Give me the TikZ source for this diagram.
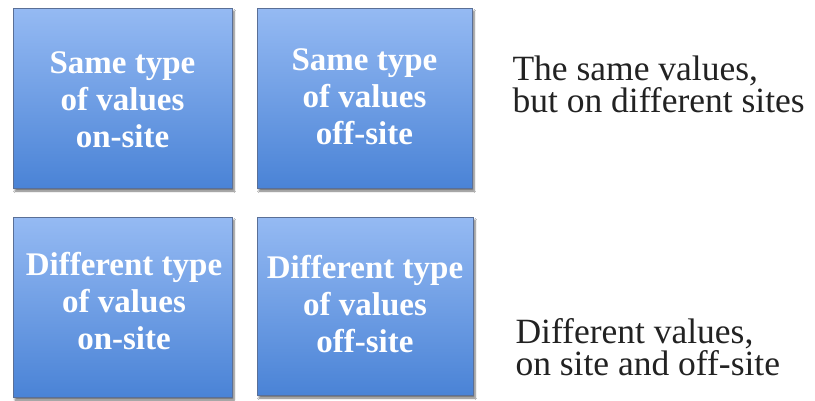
\documentclass[tikz,border=0pt]{standalone}
\usepackage{fontspec}
\setmainfont{Liberation Serif}
\usetikzlibrary{shadows.blur}
\definecolor{boxtop}{HTML}{95BAF3}
\definecolor{boxbot}{HTML}{4A83D6}
\definecolor{boxedge}{HTML}{5A6F96}
\definecolor{notetext}{HTML}{222222}
\tikzset{
  valuebox/.style={draw=boxedge, line width=0.8pt, top color=boxtop, bottom color=boxbot,
    blur shadow={shadow xshift=2pt, shadow yshift=-3pt, shadow blur steps=6, shadow opacity=55}},
  boxlabel/.style={anchor=base, align=center, text=white,
    font=\fontsize{33}{37}\selectfont\bfseries},
  note/.style={anchor=base west, align=left, text=notetext,
    font=\fontsize{35.5}{32}\selectfont}
}
\begin{document}
\begin{tikzpicture}[x=1pt,y=-1pt]
\useasboundingbox (0,0) rectangle (815,400);
\fill[white] (0,0) rectangle (815,400);
% boxes
\path[valuebox] (13,8) rectangle (232,188) coordinate (b1se);
\path[valuebox] (257,8) rectangle (472,188) coordinate (b2se);
\path[valuebox] (13,217) rectangle (232,397) coordinate (b3se);
\path[valuebox] (257,217) rectangle (473,395) coordinate (b4se);
% box labels (anchored at the baseline of the last line)
\node[boxlabel] (l1) at (122.5,147) {Same type\\of values\\on-site};
\node[boxlabel] (l2) at (364.5,144) {Same type\\of values\\off-site};
\node[boxlabel] (l3) at (124,349) {Different type\\of values\\on-site};
\node[boxlabel] (l4) at (365,352) {Different type\\of values\\off-site};
% notes
\node[note] (n1) at (509,112) {The same values,\\but on different sites};
\node[note] (n2) at (512,375) {Different values,\\on site and off-site};
\end{tikzpicture}
\end{document}
